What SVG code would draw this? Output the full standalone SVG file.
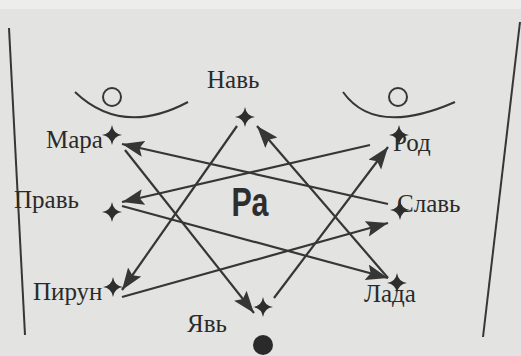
<svg xmlns="http://www.w3.org/2000/svg" width="521" height="356" viewBox="0 0 521 356">
<defs>
<style>
.lbl{font-family:"Liberation Serif","Times New Roman",serif;font-size:25px;fill:#2a2a2a}
.ln{stroke:#363636;stroke-width:2;fill:none}
.edge{stroke:#363636;stroke-width:2.2;fill:none;marker-end:url(#ah)}
.star{fill:#2e2e2e}
</style>
<marker id="ah" markerUnits="userSpaceOnUse" markerWidth="26" markerHeight="18" refX="22" refY="8" orient="auto">
<path d="M0,0 L22,8 L0,16 L4,8 Z" fill="#363636"/>
</marker>
<path id="sp" d="M0,-10 Q1.3,-1.3 10,0 Q1.3,1.3 0,10 Q-1.3,1.3 -10,0 Q-1.3,-1.3 0,-10 Z"/>
</defs>
<rect width="521" height="356" fill="#e3e3e1"/>
<rect width="521" height="9" fill="#ededeb"/>
<g id="frame">
<line class="ln" x1="9" y1="28" x2="25" y2="335"/>
<line class="ln" x1="520" y1="22" x2="483" y2="337"/>
<path class="ln" d="M75,92 Q122,137 188,102"/>
<circle class="ln" cx="112" cy="97" r="9"/>
<path class="ln" d="M343,92 Q375,137 455,102"/>
<circle class="ln" cx="398" cy="97" r="9"/>
<circle cx="263" cy="345" r="10" fill="#2a2a2a"/>
<text x="250" y="216" font-family="'Liberation Sans',Arial,sans-serif" font-weight="bold" font-size="40" fill="#2e2e2e" text-anchor="middle" transform="translate(250 0) scale(0.76 1) translate(-250 0)">Ра</text>
</g>
<g id="connectors">
<line class="edge" x1="388" y1="204" x2="122" y2="144"/>
<line class="edge" x1="370" y1="145" x2="122" y2="202"/>
<line class="edge" x1="237" y1="126" x2="122" y2="290"/>
<line class="edge" x1="122" y1="297" x2="388" y2="223"/>
<line class="edge" x1="125" y1="150" x2="254" y2="313"/>
<line class="edge" x1="274" y1="298" x2="388" y2="147"/>
<line class="edge" x1="122" y1="206" x2="388" y2="278"/>
<line class="edge" x1="388" y1="278" x2="257" y2="126"/>
</g>
<g id="nav"><use href="#sp" class="star" x="245" y="117"/><text class="lbl" x="207" y="88">Навь</text></g>
<g id="mara"><use href="#sp" class="star" x="112" y="135"/><text class="lbl" x="46" y="148">Мара</text></g>
<g id="prav"><use href="#sp" class="star" x="112" y="212"/><text class="lbl" x="14" y="208">Правь</text></g>
<g id="pirun"><use href="#sp" class="star" x="113" y="287"/><text class="lbl" x="33" y="300">Пирун</text></g>
<g id="yav"><use href="#sp" class="star" x="263" y="307"/><text class="lbl" x="187" y="332">Явь</text></g>
<g id="lada"><use href="#sp" class="star" x="397" y="283"/><text class="lbl" x="364" y="302">Лада</text></g>
<g id="slav"><use href="#sp" class="star" x="400" y="210"/><text class="lbl" x="397" y="212">Славь</text></g>
<g id="rod"><use href="#sp" class="star" x="399" y="135"/><text class="lbl" x="393" y="151">Род</text></g>
</svg>
